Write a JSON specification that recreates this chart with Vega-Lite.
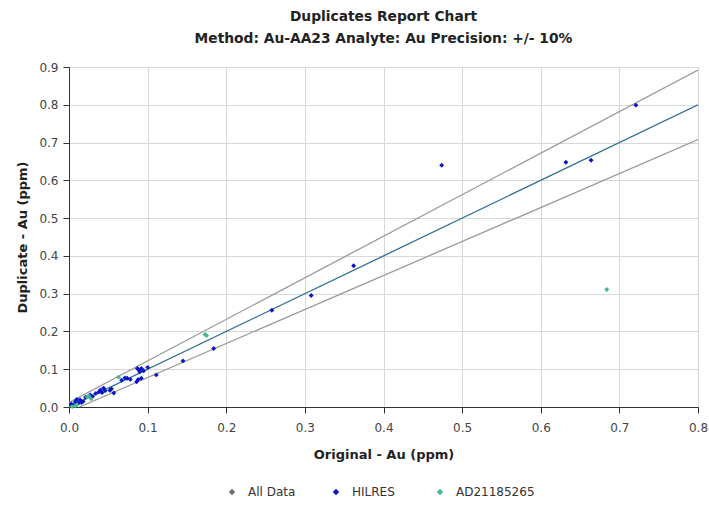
{
  "$schema": "https://vega.github.io/schema/vega-lite/v6.json",
  "autosize": {"type": "none"},
  "width": 629,
  "height": 340,
  "padding": {"left": 69, "top": 67, "right": 11, "bottom": 98},
  "background": "white",
  "config": {
    "font": "DejaVu Sans",
    "view": {"stroke": null},
    "axis": {
      "labelFont": "DejaVu Sans",
      "labelFontSize": 12,
      "labelColor": "#444444",
      "labelOverlap": false,
      "labelFlush": false,
      "titleFont": "DejaVu Sans",
      "titleFontSize": 13,
      "titleFontWeight": "bold",
      "titleColor": "#222222",
      "gridColor": "#d8d8d8",
      "gridWidth": 1,
      "domainColor": "#333333",
      "tickColor": "#333333",
      "tickSize": 6
    }
  },
  "title": {
    "text": ["Duplicates Report Chart", "Method: Au-AA23 Analyte: Au Precision: +/- 10%"],
    "font": "DejaVu Sans",
    "fontSize": 13.8,
    "fontWeight": "bold",
    "color": "#222222",
    "anchor": "middle",
    "lineHeight": 22,
    "offset": 15
  },
  "datasets": {
    "points": [
      {"x": 0.721, "y": 0.799, "series": "HILRES"},
      {"x": 0.664, "y": 0.653, "series": "HILRES"},
      {"x": 0.632, "y": 0.648, "series": "HILRES"},
      {"x": 0.474, "y": 0.640, "series": "HILRES"},
      {"x": 0.362, "y": 0.374, "series": "HILRES"},
      {"x": 0.308, "y": 0.295, "series": "HILRES"},
      {"x": 0.258, "y": 0.256, "series": "HILRES"},
      {"x": 0.184, "y": 0.155, "series": "HILRES"},
      {"x": 0.145, "y": 0.122, "series": "HILRES"},
      {"x": 0.111, "y": 0.085, "series": "HILRES"},
      {"x": 0.100, "y": 0.105, "series": "HILRES"},
      {"x": 0.092, "y": 0.102, "series": "HILRES"},
      {"x": 0.087, "y": 0.102, "series": "HILRES"},
      {"x": 0.089, "y": 0.098, "series": "HILRES"},
      {"x": 0.095, "y": 0.096, "series": "HILRES"},
      {"x": 0.090, "y": 0.093, "series": "HILRES"},
      {"x": 0.088, "y": 0.073, "series": "HILRES"},
      {"x": 0.092, "y": 0.076, "series": "HILRES"},
      {"x": 0.086, "y": 0.067, "series": "HILRES"},
      {"x": 0.078, "y": 0.073, "series": "HILRES"},
      {"x": 0.071, "y": 0.077, "series": "HILRES"},
      {"x": 0.067, "y": 0.071, "series": "HILRES"},
      {"x": 0.074, "y": 0.076, "series": "HILRES"},
      {"x": 0.054, "y": 0.048, "series": "HILRES"},
      {"x": 0.052, "y": 0.044, "series": "HILRES"},
      {"x": 0.057, "y": 0.037, "series": "HILRES"},
      {"x": 0.046, "y": 0.043, "series": "HILRES"},
      {"x": 0.044, "y": 0.050, "series": "HILRES"},
      {"x": 0.042, "y": 0.038, "series": "HILRES"},
      {"x": 0.038, "y": 0.040, "series": "HILRES"},
      {"x": 0.040, "y": 0.045, "series": "HILRES"},
      {"x": 0.034, "y": 0.036, "series": "HILRES"},
      {"x": 0.030, "y": 0.028, "series": "HILRES"},
      {"x": 0.027, "y": 0.032, "series": "HILRES"},
      {"x": 0.021, "y": 0.026, "series": "HILRES"},
      {"x": 0.018, "y": 0.015, "series": "HILRES"},
      {"x": 0.016, "y": 0.012, "series": "HILRES"},
      {"x": 0.014, "y": 0.019, "series": "HILRES"},
      {"x": 0.012, "y": 0.010, "series": "HILRES"},
      {"x": 0.010, "y": 0.020, "series": "HILRES"},
      {"x": 0.008, "y": 0.014, "series": "HILRES"},
      {"x": 0.006, "y": 0.005, "series": "HILRES"},
      {"x": 0.003, "y": 0.008, "series": "HILRES"},
      {"x": 0.005, "y": 0.003, "series": "HILRES"},
      {"x": 0.684, "y": 0.311, "series": "AD21185265"},
      {"x": 0.175, "y": 0.189, "series": "AD21185265"},
      {"x": 0.173, "y": 0.192, "series": "AD21185265"},
      {"x": 0.063, "y": 0.079, "series": "AD21185265"},
      {"x": 0.028, "y": 0.022, "series": "AD21185265"},
      {"x": 0.023, "y": 0.027, "series": "AD21185265"},
      {"x": 0.025, "y": 0.030, "series": "AD21185265"},
      {"x": 0.010, "y": 0.006, "series": "AD21185265"},
      {"x": 0.008, "y": 0.003, "series": "AD21185265"},
      {"x": 0.004, "y": 0.001, "series": "AD21185265"}
    ],
    "bounds": [
      {"x": 0.0, "y": 0.012, "line": "upper"},
      {"x": 0.8, "y": 0.892, "line": "upper"},
      {"x": 0.0133, "y": 0.0, "line": "lower"},
      {"x": 0.8, "y": 0.708, "line": "lower"}
    ],
    "identity": [
      {"x": 0.0, "y": 0.0},
      {"x": 0.8, "y": 0.8}
    ]
  },
  "encoding": {
    "x": {
      "field": "x", "type": "quantitative",
      "scale": {"domain": [0, 0.8], "nice": false},
      "title": "Original - Au (ppm)",
      "axis": {"values": [0, 0.1, 0.2, 0.3, 0.4, 0.5, 0.6, 0.7, 0.8], "format": ".1f", "labelPadding": 9, "titlePadding": 15}
    },
    "y": {
      "field": "y", "type": "quantitative",
      "scale": {"domain": [0, 0.9], "nice": false},
      "title": "Duplicate - Au (ppm)",
      "axis": {"values": [0, 0.1, 0.2, 0.3, 0.4, 0.5, 0.6, 0.7, 0.8, 0.9], "format": ".1f", "labelPadding": 5, "titlePadding": 9}
    }
  },
  "layer": [
    {
      "data": {"name": "bounds"},
      "mark": {"type": "line", "color": "#9a9a9a", "strokeWidth": 1.3, "clip": true},
      "encoding": {
        "detail": {"field": "line"}
      }
    },
    {
      "data": {"name": "identity"},
      "mark": {"type": "line", "color": "#2b6f92", "strokeWidth": 1.3, "clip": true},
      "encoding": {}
    },
    {
      "data": {"name": "points"},
      "mark": {"type": "point", "shape": "diamond", "filled": true, "size": 24, "opacity": 1},
      "encoding": {
        "color": {
          "field": "series", "type": "nominal",
          "scale": {"domain": ["All Data", "HILRES", "AD21185265"], "range": ["#707070", "#0a14c8", "#45b88c"]},
          "legend": {
            "title": null,
            "orient": "none",
            "legendX": 157,
            "legendY": 419,
            "direction": "horizontal",
            "columns": 3,
            "gridAlign": "all",
            "symbolType": "diamond",
            "symbolSize": 40,
            "labelFont": "DejaVu Sans",
            "labelFontSize": 12,
            "labelColor": "#333333",
            "columnPadding": 3,
            "labelOffset": 10
          }
        }
      }
    }
  ]
}
